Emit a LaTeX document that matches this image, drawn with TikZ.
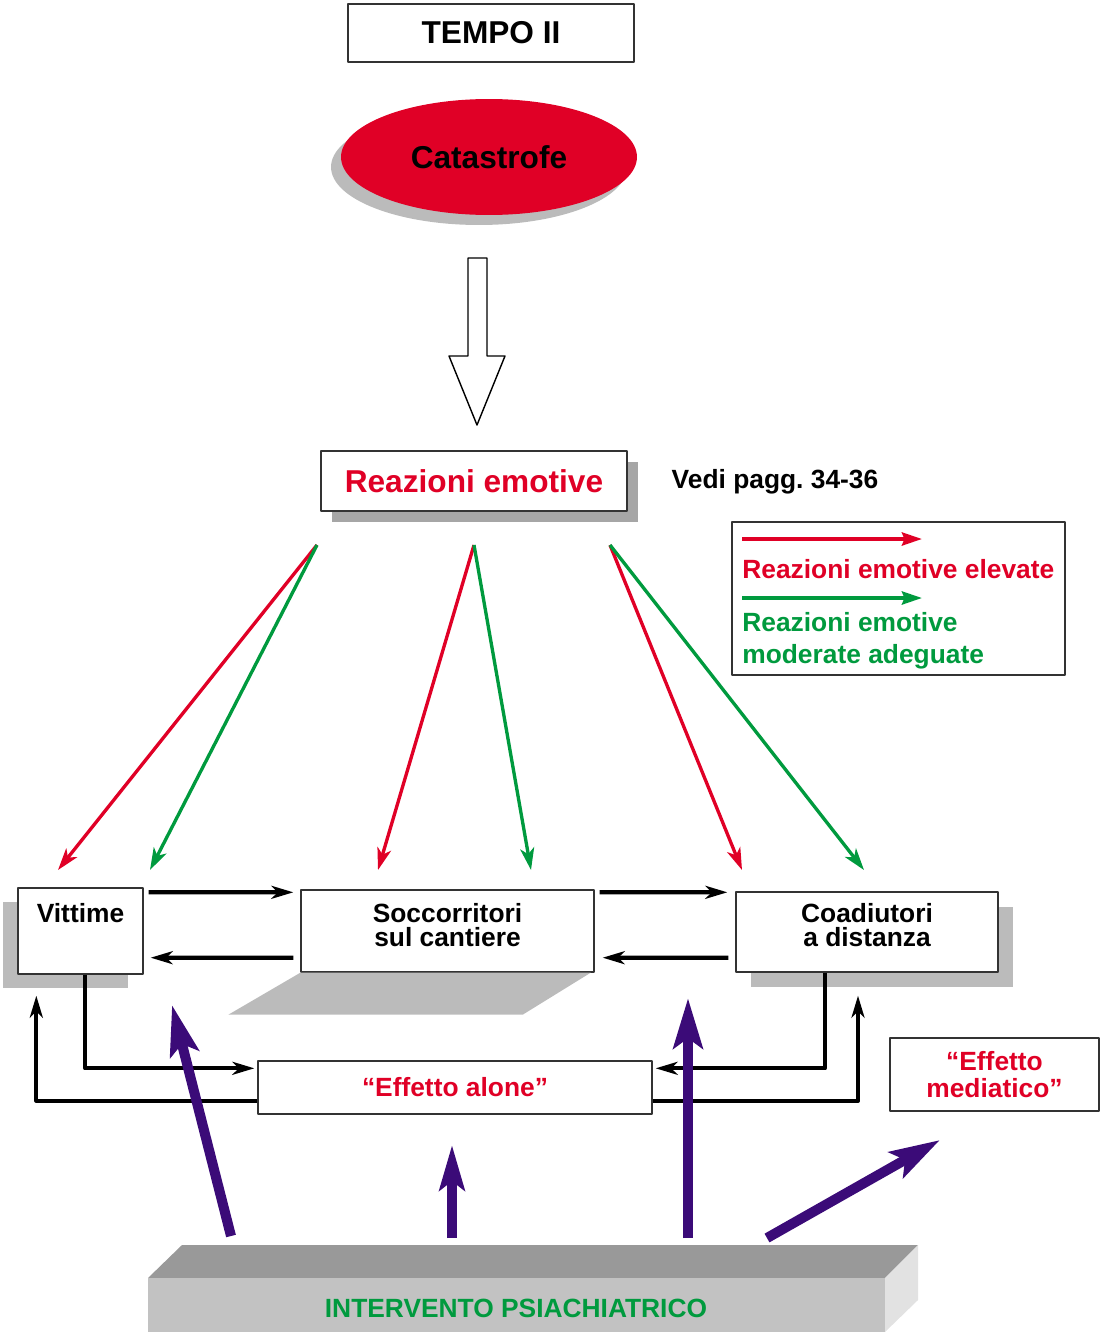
\documentclass[tikz,border=0pt]{standalone}
\usepackage{fontspec}
\setmainfont{Liberation Sans}
\usetikzlibrary{arrows.meta,shapes.geometric,shadows}
\definecolor{rosso}{HTML}{E00026}
\definecolor{verde}{HTML}{009A3E}
\definecolor{viola}{HTML}{3B0B78}
\definecolor{ombra}{HTML}{BBBBBB}
\definecolor{ombrascura}{HTML}{A6A6A6}
\definecolor{barratop}{HTML}{999999}
\definecolor{barrafront}{HTML}{C2C2C2}
\definecolor{barraside}{HTML}{E2E2E2}
\frenchspacing
\begin{document}
\begin{tikzpicture}[x=0.02cm, y=-0.02cm, font=\bfseries\fontsize{15}{13.5}\selectfont, line join=round,
	box/.style={draw=black!80, fill=white, line width=0.8pt, inner sep=0pt, align=center},
	big/.style={font=\bfseries\fontsize{18}{20}\selectfont},
	blk/.style={line width=2.4pt, -{Stealth[length=4.4mm,width=2.6mm,inset=1.3mm]}},
	rossa/.style={rosso, line width=1.9pt, -{Stealth[length=4.4mm,width=2.8mm,inset=1.2mm]}},
	verdea/.style={verde, line width=1.9pt, -{Stealth[length=4.4mm,width=2.8mm,inset=1.2mm]}},
	legarrow/.style={line width=2.2pt, -{Stealth[length=4mm,width=2.6mm,inset=0.5mm]}},
	viol/.style={viola, line width=2mm, -{Stealth[length=10mm,width=5.8mm,inset=2mm]}}]
	\useasboundingbox (0,0) rectangle (1100,1332);
	% top
	\node[box, big, minimum width=5.72cm, minimum height=1.16cm] (tempo) at (491,33) {TEMPO II};
	\node[ellipse, big, fill=rosso, minimum width=5.92cm, minimum height=2.32cm, inner sep=0pt,
		drop shadow={shadow xshift=-0.2cm, shadow yshift=-0.2cm, fill=ombra, opacity=1}] (cat) at (489,157) {Catastrofe};
	\draw[line width=0.8pt, fill=white] (468,258) -- (487,258) -- (487,356) -- (505,356) -- (477,425) -- (449,356) -- (468,356) -- cycle;
	\node[box, big, text=rosso, minimum width=6.12cm, minimum height=1.2cm,
		drop shadow={shadow xshift=0.22cm, shadow yshift=-0.22cm, fill=ombrascura, opacity=1}] (reaz) at (474,481) {Reazioni emotive};
	\node (vedi) at (775,482) {Vedi pagg. 34-36};
	% legend
	\node[box, minimum width=6.66cm, minimum height=3.06cm] (leg) at (898.5,598.5) {};
	\coordinate (lr) at (742,539); \coordinate (lr') at (922,539);
	\coordinate (lv) at (742,598); \coordinate (lv') at (922,598);
	\draw[legarrow, rosso] (lr) -- (lr');
	\draw[legarrow, verde] (lv) -- (lv');
	\node[anchor=base west, text=rosso, inner sep=0pt] (lt1) at (742,578) {Reazioni emotive elevate};
	\node[anchor=base west, text=verde, inner sep=0pt, align=left, font=\bfseries\fontsize{15}{18.2}\selectfont] (lt2) at (742,663) {Reazioni emotive\\moderate adeguate};
	% boxes
	\node[box, minimum width=2.5cm, text height=0.68cm, text depth=1.04cm,
		drop shadow={shadow xshift=-0.3cm, shadow yshift=-0.28cm, fill=ombra, opacity=1}] (vitt) at (80.5,931) {Vittime};
	\node[box, minimum width=5.86cm, text height=1.12cm, text depth=0.52cm] (socc) at (447.5,931) {Soccorritori\\sul cantiere};
	\fill[ombra] (socc.south west) -- ([shift={(-4,0)}]socc.south east) -- ++(-68,42) -- ([shift={(-72,42)}]socc.south west) -- cycle;
	\node[box, minimum width=5.24cm, text height=1.08cm, text depth=0.52cm,
		drop shadow={shadow xshift=0.3cm, shadow yshift=-0.3cm, fill=ombra, opacity=1}] (coad) at (867,932) {Coadiutori\\a distanza};
	\node[box, text=rosso, minimum width=7.88cm, minimum height=1.06cm] (alone) at (455,1087.5) {“Effetto alone”};
	\node[box, text=rosso, minimum width=4.18cm, minimum height=1.46cm, font=\bfseries\fontsize{15}{15.5}\selectfont] (media) at (994.5,1074.5) {“Effetto\\mediatico”};
	% coloured reactions
	\coordinate (o1) at (317,545); \coordinate (o2) at (474,545); \coordinate (o3) at (610,545);
	\coordinate (e1) at (58,870); \coordinate (e2) at (150,870);
	\coordinate (e3) at (378,870); \coordinate (e4) at (531,870);
	\coordinate (e5) at (742,870); \coordinate (e6) at (864,870);
	\draw[rossa] (o1) -- (e1); \draw[verdea] (o1) -- (e2);
	\draw[rossa] (o2) -- (e3); \draw[verdea] (o2) -- (e4);
	\draw[rossa] (o3) -- (e5); \draw[verdea] (o3) -- (e6);
	% black links
	\draw[blk] ([shift={(5,5)}]vitt.north east) -- ([shift={(-7,3)}]socc.north west);
	\draw[blk] ([shift={(-7,-15)}]socc.south west) -- ([shift={(7,-17)}]vitt.south east);
	\draw[blk] ([shift={(5,3)}]socc.north east) -- ([shift={(-8,1)}]coad.north west);
	\draw[blk] ([shift={(-7,-15)}]coad.south west) -- ([shift={(8,-15)}]socc.south east);
	\draw[blk] ([shift={(4.5,0)}]vitt.south) |- ([shift={(-3,8)}]alone.north west);
	\draw[blk] ([shift={(0,-14)}]alone.south west) -| ([shift={(19,21)}]vitt.south west);
	\draw[blk] ([shift={(-42,0)}]coad.south) |- ([shift={(3,8)}]alone.north east);
	\draw[blk] ([shift={(0,-14)}]alone.south east) -| ([shift={(-9,23)}]coad.south);
	% bar
	\fill[barratop] (148,1278) -- (182,1245) -- (918,1245) -- (885,1278) -- cycle;
	\fill[barrafront] (148,1278) rectangle (885,1332);
	\fill[barraside] (885,1278) -- (918,1245) -- (918,1300) -- (885,1332) -- cycle;
	\node[text=verde, font=\bfseries\fontsize{15}{16}\selectfont] (interv) at (516,1308) {INTERVENTO PSIACHIATRICO};
	% intervention arrows
	\coordinate (p1) at (231,1236); \coordinate (q1) at (172,1005);
	\coordinate (p2) at (452,1238); \coordinate (q2) at (452,1145);
	\coordinate (p3) at (688,1238); \coordinate (q3) at (688,998);
	\coordinate (p4) at (767,1238); \coordinate (q4) at (940,1140);
	\draw[viol] (p1) -- (q1);
	\draw[viol, -{Stealth[length=9mm,width=5mm,inset=1.8mm]}] (p2) -- (q2);
	\draw[viol] (p3) -- (q3);
	\draw[viol] (p4) -- (q4);
\end{tikzpicture}
\end{document}
